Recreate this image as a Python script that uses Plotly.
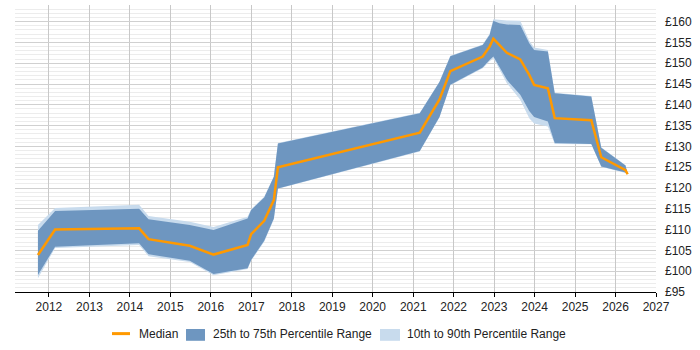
import plotly.graph_objects as go

dates = ["2011-09-24", "2012-02-26", "2014-03-25", "2014-06-18", "2015-06-25",
         "2016-01-26", "2016-11-28", "2016-12-30", "2017-04-27", "2017-07-23",
         "2017-08-29", "2021-03-01", "2021-08-26", "2021-12-02", "2022-09-20",
         "2022-11-21", "2022-12-25", "2023-02-17", "2023-04-26", "2023-08-25",
         "2023-11-14", "2023-12-28", "2024-04-30", "2024-07-01", "2025-05-27",
         "2025-08-25", "2026-04-01", "2026-04-20"]
median = [103.9, 110.0, 110.3, 107.7, 106.1, 104.0, 106.3, 108.9, 112.1, 117.1,
          125.0, 133.3, 141.3, 148.1, 151.6, 154.0, 155.9, 154.5, 152.5, 150.9,
          147.2, 144.8, 144.0, 136.8, 136.3, 127.4, 124.3, 123.3]
q75 = [109.7, 114.5, 115.0, 112.5, 111.1, 109.9, 112.7, 114.7, 117.7, 122.7,
       130.7, 138.0, 145.5, 151.7, 154.4, 156.8, 160.2, 159.6, 159.3, 159.2,
       154.8, 153.2, 152.8, 142.8, 142.0, 129.7, 125.4, 123.3]
q25 = [99.1, 105.9, 106.7, 104.1, 102.5, 99.3, 100.7, 102.7, 107.3, 112.7,
       119.9, 128.9, 137.1, 144.8, 149.0, 150.8, 151.6, 149.2, 146.0, 142.4,
       138.5, 137.1, 136.0, 130.8, 130.6, 125.2, 123.7, 123.3]
p90 = [111.1, 115.2, 116.0, 113.3, 111.9, 110.6, 113.1, 114.9, 117.9, 122.8,
       130.8, 138.1, 145.6, 151.8, 154.5, 157.0, 160.6, 160.4, 160.3, 160.2,
       155.4, 153.8, 153.2, 142.9, 142.1, 129.8, 125.5, 123.3]
p10 = [98.3, 105.6, 106.3, 103.6, 102.2, 99.0, 100.5, 102.5, 107.1, 112.5,
       119.8, 128.8, 137.0, 144.7, 148.8, 150.5, 151.2, 148.6, 145.2, 141.2,
       136.8, 135.5, 134.8, 130.6, 130.5, 125.1, 123.6, 123.3]

y_ticks = list(range(95, 161, 5))
y_labels = ["£%d" % v for v in y_ticks]
legend_names = ["Median", "25th to 75th Percentile Range", "10th to 90th Percentile Range"]

DARK = "rgb(110,150,192)"
LIGHT = "rgb(200,219,237)"
ORANGE = "rgb(255,153,0)"
TXT = "#222"

fig = go.Figure()
fig.add_trace(go.Scatter(
    x=dates + dates[::-1], y=p90 + p10[::-1], fill="toself", fillcolor=LIGHT,
    line=dict(width=0, color=LIGHT), mode="lines", name=legend_names[2],
    showlegend=False, hoverinfo="skip"))
fig.add_trace(go.Scatter(
    x=dates + dates[::-1], y=q75 + q25[::-1], fill="toself", fillcolor=DARK,
    line=dict(width=0, color=DARK), mode="lines", name=legend_names[1],
    showlegend=False, hoverinfo="skip"))
fig.add_trace(go.Scatter(
    x=dates, y=median, mode="lines", line=dict(color=ORANGE, width=2.5),
    name=legend_names[0], showlegend=False))

# custom legend below the plot (paper coordinates)
ly = -0.145
shapes = [
    dict(type="line", xref="paper", yref="paper", x0=0.1513, x1=0.1794, y0=ly, y1=ly,
         line=dict(color=ORANGE, width=3)),
    dict(type="rect", xref="paper", yref="paper", x0=0.2668, x1=0.2964, y0=-0.129, y1=-0.170,
         fillcolor=DARK, line=dict(width=0)),
    dict(type="rect", xref="paper", yref="paper", x0=0.5694, x1=0.6006, y0=-0.129, y1=-0.170,
         fillcolor=LIGHT, line=dict(width=0)),
]
annotations = [
    dict(xref="paper", yref="paper", x=xp, y=ly, text=t, showarrow=False,
         xanchor="left", yanchor="middle", font=dict(size=12, color=TXT))
    for xp, t in zip([0.1903, 0.3058, 0.6084], legend_names)
]

fig.update_layout(
    width=700, height=350,
    margin=dict(l=15, r=44, t=5, b=58, autoexpand=False),
    paper_bgcolor="white", plot_bgcolor="white",
    font=dict(family="Liberation Sans, Arial, sans-serif", size=12, color=TXT),
    showlegend=False,
    shapes=shapes, annotations=annotations,
    xaxis=dict(
        type="date", range=["2011-03-01", "2027-01-01"],
        dtick="M12", tick0="2012-01-01", tickformat="%Y",
        showgrid=True, gridcolor="#c8c8c8", gridwidth=1,
        showline=True, linecolor="#000", linewidth=1,
        ticks="outside", ticklen=4, tickcolor="#000",
        zeroline=False, fixedrange=True),
    yaxis=dict(
        side="right", range=[95, 164],
        tickmode="array", tickvals=y_ticks, ticktext=y_labels,
        ticklabelstandoff=8,
        showgrid=True, gridcolor="#d0d0d0", gridwidth=1,
        minor=dict(dtick=1, tick0=95, showgrid=True, gridcolor="#ececec", gridwidth=1),
        showline=False, zeroline=False, ticks="", fixedrange=True),
)

fig.write_html("out.html")
